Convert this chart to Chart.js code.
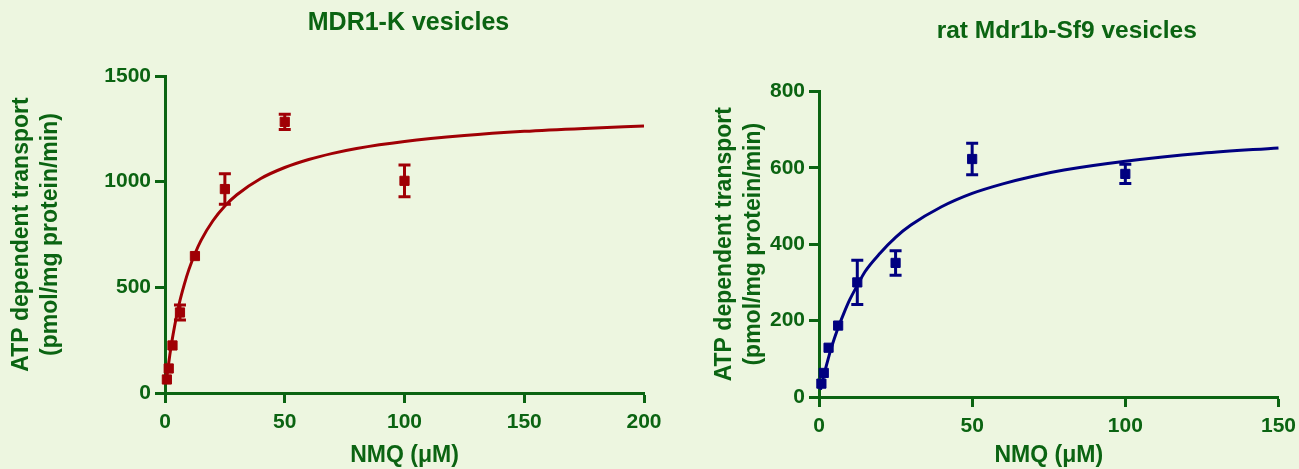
<!DOCTYPE html>
<html>
<head>
<meta charset="utf-8">
<script src="https://cdn.jsdelivr.net/npm/chart.js@4"></script>
<style>
  html, body { margin: 0; padding: 0; background: #edf6e0; }
  body { width: 1299px; height: 469px; position: relative; overflow: hidden; }
  .box { position: absolute; top: 0; height: 469px; }
  #left { left: 0; width: 680px; }
  #right { left: 700px; width: 603px; }
</style>
</head>
<body>
<div class="box" id="left"><canvas id="chartK"></canvas></div>
<div class="box" id="right"><canvas id="chartR"></canvas></div>
<script>
// NMQ concentrations (uM)
const concK = [0.78, 1.56, 3.125, 6.25, 12.5, 25, 50, 100];
const concR = [0.78, 1.56, 3.125, 6.25, 12.5, 25, 50, 100];

// measured ATP dependent transport (pmol/mg protein/min) and SEM
const meanK = [64, 116, 225, 381, 648, 965, 1283, 1004];
const errK = [0, 0, 0, 35, 0, 72, 36, 75];
const meanR = [35, 63, 129, 187, 300, 351, 623, 584];
const errR = [0, 0, 0, 0, 58, 32, 41, 25];

// fitted curves
const fitXK = [0.5, 1, 2, 3, 4, 6, 8, 10, 12.5, 15, 20, 25, 30, 40, 50, 60, 70, 80, 100, 125, 150, 175, 200];
const fitYK = [50, 96, 179, 252, 316, 426, 512, 585, 659, 721, 815, 885, 938, 1015, 1067, 1105, 1134, 1157, 1190, 1218, 1238, 1252, 1263];
const fitXR = [0.5, 1, 2, 3, 4, 6, 8, 10, 12.5, 15, 20, 25, 30, 40, 50, 60, 70, 80, 100, 125, 150];
const fitYR = [19, 37, 70, 100, 128, 176, 217, 254, 292, 328, 377, 418, 450, 498, 533, 558, 578, 594, 617, 638, 652];

// axis ticks
const xTicksK = [0, 50, 100, 150, 200];
const yTicksK = [0, 500, 1000, 1500];
const xTicksR = [0, 50, 100, 150];
const yTicksR = [0, 200, 400, 600, 800];

const GREEN = '#0b6412';
const RED = '#a00005';
const BLUE = '#000080';
const FONT = "'Liberation Sans', Arial, sans-serif";

const toPts = (xs, ys) => xs.map((x, i) => ({x: x, y: ys[i]}));

// error bars with caps, drawn through the chart scales
const errorBars = {
  id: 'errorBars',
  afterDatasetsDraw(chart) {
    const {ctx, scales: {x, y}} = chart;
    chart.data.datasets.forEach(ds => {
      if (!ds.errors) return;
      ctx.save();
      ctx.strokeStyle = ds.backgroundColor;
      ctx.lineWidth = 3;
      ds.data.forEach((p, i) => {
        const e = ds.errors[i];
        if (!e) return;
        const px = x.getPixelForValue(p.x);
        const top = y.getPixelForValue(p.y + e);
        const bot = y.getPixelForValue(p.y - e);
        ctx.beginPath();
        ctx.moveTo(px, top); ctx.lineTo(px, bot);
        ctx.moveTo(px - 6, top); ctx.lineTo(px + 6, top);
        ctx.moveTo(px - 6, bot); ctx.lineTo(px + 6, bot);
        ctx.stroke();
      });
      ctx.restore();
    });
  }
};

// nudges the title sideways (the right panel's title sits off-centre)
const titleShift = {
  id: 'titleShift',
  afterLayout(chart, args, opts) {
    if (chart.titleBlock && opts.dx) {
      chart.titleBlock.left += opts.dx;
      chart.titleBlock.right += opts.dx;
    }
  }
};

function axis(min, max, ticks, size, padTicks, title) {
  return {
    type: 'linear',
    min: min,
    max: max,
    afterBuildTicks: s => { s.ticks = ticks.map(v => ({value: v})); },
    border: {display: true, color: GREEN, width: 3},
    grid: {drawOnChartArea: false, drawTicks: true, tickLength: 10, tickWidth: 3, tickColor: GREEN},
    ticks: {color: GREEN, font: {family: FONT, size: 21, weight: 'bold'}, padding: padTicks,
      callback: v => String(v)},
    title: title,
    afterFit: s => { if (s.isHorizontal()) s.height = size; else s.width = size; }
  };
}

function makeChart(id, opt) {
  return new Chart(document.getElementById(id), {
    type: 'scatter',
    data: {
      datasets: [
        {
          data: toPts(opt.fitX, opt.fitY),
          showLine: true,
          borderColor: opt.color,
          borderWidth: 3,
          pointRadius: 0,
          cubicInterpolationMode: 'monotone',
          clip: false
        },
        {
          data: toPts(opt.conc, opt.mean),
          errors: opt.err,
          backgroundColor: opt.color,
          borderColor: opt.color,
          borderWidth: 1,
          pointStyle: 'rect',
          pointRadius: 6.5,
          clip: false
        }
      ]
    },
    options: {
      responsive: true,
      maintainAspectRatio: false,
      animation: false,
      layout: {padding: {left: 0, right: opt.padRight, top: 0, bottom: 0}},
      plugins: {
        legend: {display: false},
        tooltip: {enabled: false},
        titleShift: {dx: opt.titleDx},
        title: {
          display: true,
          fullSize: false,
          text: opt.title,
          color: GREEN,
          font: {family: FONT, size: opt.titleSize, weight: 'bold', lineHeight: 1.2},
          padding: opt.titlePad
        }
      },
      scales: {
        x: axis(opt.xMin, opt.xMax, opt.xTicks, opt.xH, 7,
          {display: true, text: 'NMQ (\u03bcM)', color: GREEN, padding: {top: 0, bottom: 1},
            font: {family: FONT, size: 23, weight: 'bold', lineHeight: 1.05}}),
        y: axis(0, opt.yMax, opt.yTicks, opt.yW, 4,
          {display: true, text: ['ATP dependent transport', '(pmol/mg protein/min)'], color: GREEN,
            padding: {top: opt.yTitlePad, bottom: 0},
            font: {family: FONT, size: 23, weight: 'bold', lineHeight: 1.23}})
      }
    },
    plugins: [errorBars, titleShift]
  });
}

makeChart('chartK', {
  title: 'MDR1-K vesicles', titleSize: 25, titlePad: {top: 8, bottom: 38}, titleDx: 4,
  fitX: fitXK, fitY: fitYK, conc: concK, mean: meanK, err: errK, color: RED,
  xMin: 0, xMax: 200, xTicks: xTicksK, yMax: 1500, yTicks: yTicksK,
  xH: 76, yW: 165, padRight: 36, yTitlePad: 8
});

makeChart('chartR', {
  title: 'rat Mdr1b-Sf9 vesicles', titleSize: 24.5, titlePad: {top: 17, bottom: 45}, titleDx: 18,
  fitX: fitXR, fitY: fitYR, conc: concR, mean: meanR, err: errR, color: BLUE,
  xMin: 0, xMax: 150, xTicks: xTicksR, yMax: 800, yTicks: yTicksR,
  xH: 72, yW: 119, padRight: 18, yTitlePad: 11
});
</script>
</body>
</html>
